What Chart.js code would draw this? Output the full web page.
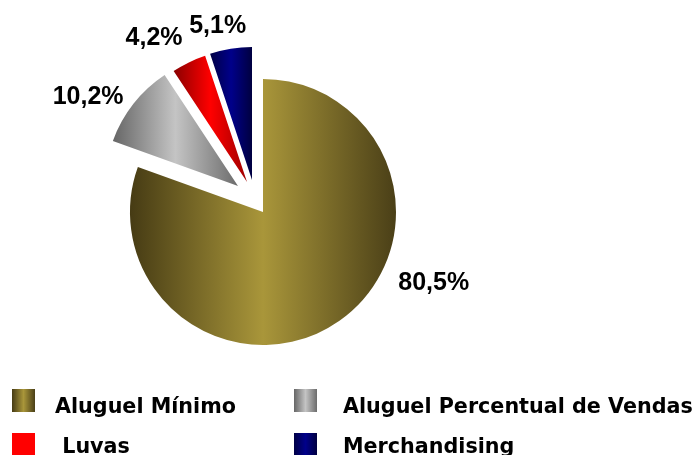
<!DOCTYPE html>
<html lang="pt-br">

<head>
    <meta charset="UTF-8">
    <meta name="viewport" content="width=device-width, initial-scale=1.0">
    <title>Composição da Receita de Aluguel</title>
    <style>
        body {
            margin: 0;
            background: #fff;
        }

        .quadro {
            position: relative;
            width: 698px;
            height: 455px;
            overflow: hidden;
        }

        #grafico {
            position: absolute;
            left: 0;
            top: 0;
        }

        .caixa {
            position: absolute;
            width: 23px;
            height: 23px;
        }

        .texto {
            position: absolute;
            font: bold 20.7px "DejaVu Sans", sans-serif;
            line-height: 24px;
            white-space: pre;
            color: #000;
        }
    </style>
</head>

<body>
    <div class="quadro">
        <canvas id="grafico" width="698" height="455"></canvas>
        <div id="legenda"></div>
    </div>

    <script src="https://cdn.jsdelivr.net/npm/chart.js"></script>

    <script>
        const categorias = ['Aluguel Mínimo', 'Aluguel Percentual de Vendas', ' Luvas', 'Merchandising']
        const valores = [80.5, 10.2, 4.2, 5.1]

        // degradê horizontal de cada fatia (borda, centro, borda)
        const degrades = [
            ['#463b14', '#a9963a', '#4a3f17'],
            ['#666666', '#c4c4c4', '#6c6c6c'],
            ['#8a0000', '#ff0000', '#a00000'],
            ['#000046', '#00008a', '#000040']
        ]
        const corLegenda = [null, null, '#ff0000', null]

        // deslocamento das fatias destacadas (px)
        const explosaoX = [0, -25, -16, -11]
        const explosaoY = [0, -26, -30, -32]

        // posição dos rótulos: graus a partir do topo (horário) e distância do centro
        const rotuloAngulo = [112.7, 303.2, 327.9, 346.3]
        const rotuloDist = [185, 209, 205, 191.5]

        const RAIO = 133

        const explodir = {
            id: 'explodir',
            afterDatasetUpdate(chart, args) {
                const ctx = chart.ctx
                args.meta.data.forEach((arc, i) => {
                    arc.x += explosaoX[i]
                    arc.y += explosaoY[i]

                    // largura horizontal da fatia, para o degradê
                    const xs = [arc.x,
                        arc.x + Math.cos(arc.startAngle) * arc.outerRadius,
                        arc.x + Math.cos(arc.endAngle) * arc.outerRadius]
                    for (let k = -1; k <= 4; k++) {
                        const a = k * Math.PI / 2
                        if (a > arc.startAngle && a < arc.endAngle) {
                            xs.push(arc.x + Math.cos(a) * arc.outerRadius)
                        }
                    }
                    const x0 = Math.min(...xs)
                    const x1 = Math.max(...xs)
                    const g = ctx.createLinearGradient(x0, 0, x1, 0)
                    g.addColorStop(0, degrades[i][0])
                    g.addColorStop(0.5, degrades[i][1])
                    g.addColorStop(1, degrades[i][2])
                    arc.options.backgroundColor = g
                })
            }
        }

        const rotulos = {
            id: 'rotulos',
            afterDatasetsDraw(chart) {
                const { ctx, chartArea } = chart
                const cx = (chartArea.left + chartArea.right) / 2
                const cy = (chartArea.top + chartArea.bottom) / 2
                ctx.save()
                ctx.font = 'bold 25px "Liberation Sans", Arial, sans-serif'
                ctx.fillStyle = '#000'
                ctx.textAlign = 'center'
                ctx.textBaseline = 'middle'
                valores.forEach((v, i) => {
                    const ang = (rotuloAngulo[i] - 90) * Math.PI / 180
                    const texto = v.toFixed(1).replace('.', ',') + '%'
                    ctx.fillText(texto, cx + Math.cos(ang) * rotuloDist[i], cy + Math.sin(ang) * rotuloDist[i])
                })
                ctx.restore()
            }
        }

        new Chart(document.getElementById('grafico'), {
            type: 'pie',
            data: {
                labels: categorias,
                datasets: [{
                    data: valores,
                    backgroundColor: degrades.map((d) => d[1]),
                    borderWidth: 0
                }]
            },
            options: {
                responsive: false,
                animation: false,
                events: [],
                radius: RAIO,
                layout: {
                    padding: { left: 0, right: 172, top: 0, bottom: 31 }
                },
                plugins: {
                    legend: { display: false },
                    tooltip: { enabled: false }
                }
            },
            plugins: [explodir, rotulos]
        })

        // legenda em duas colunas
        const colCaixa = [12, 294]
        const colTexto = [55, 343]
        const linCaixa = [389, 433]
        const linTexto = [394, 434]
        const legenda = document.getElementById('legenda')

        categorias.forEach((nome, i) => {
            const col = i % 2
            const lin = Math.floor(i / 2)

            const caixa = document.createElement('div')
            caixa.className = 'caixa'
            caixa.style.left = colCaixa[col] + 'px'
            caixa.style.top = linCaixa[lin] + 'px'
            caixa.style.background = corLegenda[i] ||
                `linear-gradient(to right, ${degrades[i][0]}, ${degrades[i][1]}, ${degrades[i][2]})`
            legenda.appendChild(caixa)

            const texto = document.createElement('span')
            texto.className = 'texto'
            texto.style.left = colTexto[col] + 'px'
            texto.style.top = linTexto[lin] + 'px'
            texto.textContent = nome
            legenda.appendChild(texto)
        })
    </script>
</body>

</html>
